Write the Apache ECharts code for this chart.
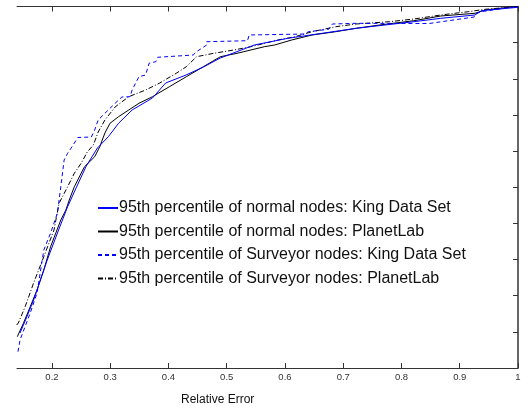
<!DOCTYPE html>
<html>
<head>
<meta charset="utf-8">
<script src="https://cdn.jsdelivr.net/npm/echarts@6/dist/echarts.min.js"></script>
<style>html,body{margin:0;padding:0;background:#fff}#c{width:531px;height:412px}</style>
</head>
<body>
<div id="c"></div>
<script>
var xTicks = [0.2, 0.3, 0.4, 0.5, 0.6, 0.7, 0.8, 0.9, 1.0];
var xTickLabels = ['0.2', '0.3', '0.4', '0.5', '0.6', '0.7', '0.8', '0.9', '1'];
var seriesNames = [
  '95th percentile of normal nodes: King Data Set',
  '95th percentile of normal nodes: PlanetLab',
  '95th percentile of Surveyor nodes: King Data Set',
  '95th percentile of Surveyor nodes: PlanetLab'
];
var kingNormal = [
  [0.1452,0.0968],[0.1570,0.1419],[0.1685,0.1881],[0.1802,0.2434],[0.1919,0.2988],[0.2094,0.3734],
  [0.2269,0.4462],[0.2414,0.4979],[0.2589,0.5588],[0.2781,0.6086],[0.2968,0.6398],[0.3143,0.6769],
  [0.3376,0.7137],[0.3725,0.7469],[0.3952,0.7884],[0.4302,0.8105],[0.4599,0.8326],[0.4891,0.8575],
  [0.5474,0.8935],[0.6050,0.9120],[0.6640,0.9259],[0.7222,0.9397],[0.8213,0.9580],[0.8673,0.9673],
  [0.9262,0.9765],[0.9372,0.9884],[1.0,0.9978]
];
var planetNormal = [
  [0.1405,0.0866],[0.1510,0.1237],[0.1627,0.1696],[0.1744,0.2158],[0.1860,0.2711],[0.1977,0.3356],
  [0.2152,0.4094],[0.2239,0.4370],[0.2297,0.4647],[0.2384,0.5015],[0.2559,0.5568],[0.2734,0.5845],
  [0.2821,0.6122],[0.2909,0.6501],[0.2996,0.6769],[0.3143,0.6952],[0.3318,0.7137],[0.3493,0.7322],
  [0.3725,0.7505],[0.4017,0.7782],[0.4307,0.8058],[0.4599,0.8335],[0.4891,0.8611],[0.5176,0.8705],
  [0.5648,0.8888],[0.5823,0.8935],[0.6115,0.9073],[0.6465,0.9212],[0.6872,0.9303],[0.7222,0.9397],
  [0.7624,0.9488],[0.8213,0.9607],[0.8673,0.9737],[0.9262,0.9812],[0.9437,0.9903],[0.9844,0.9978],[1.0,1.0]
];
var kingSurveyor = [
  [0.1417,0.0451],[0.1452,0.0775],[0.1627,0.1521],[0.1744,0.2075],[0.1860,0.3264],[0.1977,0.3734],
  [0.2094,0.4288],[0.2152,0.5015],[0.2209,0.5754],[0.2269,0.5939],[0.2327,0.6077],[0.2444,0.6376],
  [0.2676,0.6390],[0.2734,0.6584],[0.2793,0.6860],[0.2909,0.7046],[0.3084,0.7322],[0.3201,0.7497],
  [0.3341,0.7505],[0.3376,0.7690],[0.3493,0.8058],[0.3608,0.8105],[0.3667,0.8429],[0.3783,0.8473],
  [0.3813,0.8595],[0.4424,0.8658],[0.4482,0.8750],[0.4657,0.8935],[0.4657,0.9026],[0.5356,0.9054],
  [0.5386,0.9212],[0.6347,0.9239],[0.6400,0.9303],[0.6750,0.9369],[0.6814,0.9516],[0.7222,0.9535],
  [0.8475,0.9530],[0.9250,0.9710],[0.9285,0.9810],[0.9370,0.9856],[0.9840,0.9970],[1.0,1.0]
];
var planetSurveyor = [
  [0.1395,0.1189],[0.1423,0.1245],[0.1540,0.1696],[0.1685,0.2351],[0.1860,0.3079],[0.2035,0.3817],
  [0.2122,0.4556],[0.2269,0.5015],[0.2384,0.5386],[0.2501,0.5663],[0.2606,0.5975],[0.2711,0.6169],
  [0.2793,0.6528],[0.2909,0.6860],[0.3084,0.7220],[0.3318,0.7505],[0.3608,0.7690],[0.3842,0.7876],
  [0.4133,0.8152],[0.4307,0.8335],[0.4482,0.8611],[0.4774,0.8705],[0.5124,0.8797],[0.5416,0.8888],
  [0.5876,0.9073],[0.6173,0.9165],[0.6465,0.9303],[0.6872,0.9441],[0.7222,0.9516],[0.7799,0.9580],
  [0.8213,0.9654],[0.8673,0.9765],[0.9145,0.9856],[0.9437,0.9923],[0.9844,0.9978],[1.0,1.0]
];

var chart = echarts.init(document.getElementById('c'), null, {renderer: 'canvas'});
var axisCol = '#333';
var fontFam = 'Liberation Sans, Arial, Helvetica, sans-serif';
function mkSeries(name, data, color, type) {
  return {
    name: name, type: 'line', data: data, xAxisIndex: 0, yAxisIndex: 0,
    symbol: 'none', showSymbol: false, smooth: false, animation: false,
    lineStyle: {color: color, width: 1, type: type},
    itemStyle: {color: color}
  };
}
chart.setOption({
  animation: false,
  backgroundColor: '#fff',
  grid: {left: 17, right: 13, top: 6.5, bottom: 44, containLabel: false},
  legend: {
    orient: 'vertical', left: 97, top: 200, padding: 0,
    itemWidth: 20, itemHeight: 14, itemGap: 7.5,
    itemStyle: {opacity: 0},
    textStyle: {fontFamily: fontFam, fontSize: 16, lineHeight: 16, color: '#111', padding: [0, 0, 0, -4]},
    data: seriesNames
  },
  xAxis: [{
    type: 'value', position: 'bottom', min: 0.14, max: 1,
    axisLine: {show: true, lineStyle: {color: axisCol, width: 1}},
    axisTick: {show: true, inside: true, length: 5, customValues: xTicks, lineStyle: {color: axisCol}},
    axisLabel: {show: true, customValues: xTicks, margin: 4, fontSize: 9.5, fontFamily: fontFam, color: '#333',
      formatter: function (v) { var i = xTicks.findIndex(function (t) { return Math.abs(t - v) < 1e-6; }); return i >= 0 ? xTickLabels[i] : ''; }},
    splitLine: {show: false}
  }, {
    type: 'value', position: 'top', min: 0.14, max: 1,
    axisLine: {show: true, lineStyle: {color: axisCol, width: 1}},
    axisTick: {show: true, inside: true, length: 5, customValues: xTicks, lineStyle: {color: axisCol}},
    axisLabel: {show: false},
    splitLine: {show: false}
  }],
  yAxis: [{
    type: 'value', position: 'right', min: 0, max: 1, interval: 0.1,
    axisLine: {show: true, lineStyle: {color: axisCol, width: 1.5}},
    axisTick: {show: true, inside: true, length: 5, lineStyle: {color: axisCol}},
    axisLabel: {show: false},
    splitLine: {show: false}
  }],
  graphic: [{
    type: 'text', left: 'center', top: 394,
    style: {text: 'Relative Error', font: '14.5px ' + fontFam, fill: '#111'}
  }],
  series: [
    mkSeries(seriesNames[1], planetNormal, '#000', 'solid'),
    mkSeries(seriesNames[3], planetSurveyor, '#000', [5, 2, 1, 2]),
    mkSeries(seriesNames[0], kingNormal, '#0000ff', 'solid'),
    mkSeries(seriesNames[2], kingSurveyor, '#0000ff', [4, 3])
  ]
});
// position the axis title centred at x = 226
chart.setOption({graphic: [{left: 226 - 45, top: 394}]});
</script>
</body>
</html>
